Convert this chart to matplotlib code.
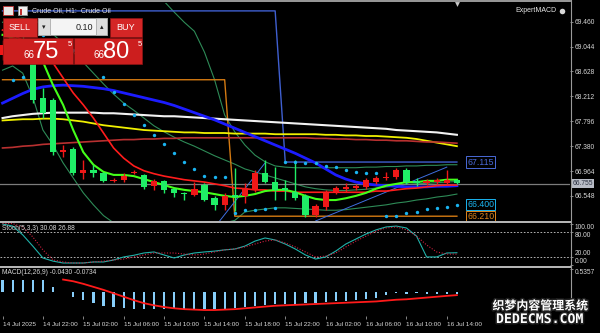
import numpy as np
import matplotlib
matplotlib.use("Agg")
import matplotlib.pyplot as plt
import matplotlib.patheffects as pe
import matplotlib.transforms as mtransforms
from matplotlib.patches import Rectangle

plt.rcParams['font.family'] = ['Liberation Sans', 'DejaVu Sans']

# ---- H1 candles, 14 Jul 18:00 .. 16 Jul 15:00 (green = falling bar, red = rising bar)
opens = [68.90, 69.07, 69.15, 68.90, 68.19, 68.15, 67.28, 67.33, 66.93, 66.98,
         66.93, 66.80, 66.82, 66.93, 66.90, 66.72, 66.80, 66.67, 66.60, 66.57,
         66.73, 66.51, 66.40, 66.57, 66.55, 66.65, 66.93, 66.78, 66.68, 66.61,
         66.55, 66.23, 66.36, 66.61, 66.67, 66.68, 66.70, 66.78, 66.85, 66.87,
         66.98, 66.80, 66.77, 66.78, 66.77, 66.82]
highs = [69.15, 69.27, 69.23, 68.99, 68.35, 68.19, 67.40, 67.37, 67.15, 67.07,
         66.95, 66.85, 66.93, 66.98, 66.92, 66.83, 66.82, 66.68, 66.61, 66.78,
         66.77, 66.55, 66.60, 67.02, 66.77, 66.98, 67.15, 67.03, 66.82, 67.15,
         66.58, 66.42, 66.65, 66.72, 66.77, 66.75, 66.85, 66.88, 66.95, 67.02,
         67.02, 66.85, 66.83, 66.85, 66.98, 66.83]
lows = [68.82, 68.99, 68.82, 68.10, 67.85, 67.23, 67.20, 66.90, 66.83, 66.87,
        66.78, 66.78, 66.78, 66.92, 66.67, 66.65, 66.60, 66.53, 66.48, 66.55,
        66.46, 66.31, 66.31, 66.30, 66.43, 66.61, 66.77, 66.48, 66.48, 66.48,
        66.20, 66.20, 66.31, 66.58, 66.61, 66.65, 66.67, 66.75, 66.82, 66.83,
        66.75, 66.72, 66.73, 66.75, 66.75, 66.75]
closes = [69.07, 69.19, 68.90, 68.15, 67.93, 67.28, 67.32, 66.93, 66.98, 66.93,
          66.80, 66.82, 66.88, 66.95, 66.70, 66.80, 66.65, 66.60, 66.58, 66.67,
          66.48, 66.40, 66.55, 66.53, 66.68, 66.93, 66.78, 66.65, 66.65, 66.51,
          66.23, 66.38, 66.60, 66.68, 66.70, 66.72, 66.82, 66.85, 66.87, 66.98,
          66.78, 66.77, 66.80, 66.82, 66.82, 66.76]

# ---- moving averages
ma_white = [67.85, 67.88, 67.90, 67.92, 67.93, 67.94, 67.94, 67.94, 67.94, 67.94,
            67.93, 67.93, 67.92, 67.91, 67.90, 67.89, 67.88, 67.88, 67.87, 67.86,
            67.85, 67.84, 67.83, 67.82, 67.81, 67.80, 67.79, 67.78, 67.77, 67.76,
            67.75, 67.74, 67.73, 67.72, 67.71, 67.70, 67.69, 67.68, 67.67, 67.65,
            67.64, 67.63, 67.62, 67.61, 67.59, 67.57]
ma_yellow = [67.81, 67.82, 67.83, 67.83, 67.84, 67.84, 67.83, 67.81, 67.79, 67.76,
             67.73, 67.71, 67.69, 67.67, 67.65, 67.64, 67.63, 67.62, 67.61, 67.61,
             67.60, 67.60, 67.60, 67.59, 67.59, 67.59, 67.59, 67.58, 67.58, 67.58,
             67.58, 67.58, 67.57, 67.57, 67.56, 67.56, 67.55, 67.55, 67.54, 67.53,
             67.52, 67.50, 67.47, 67.44, 67.41, 67.38]
ma_darkred = [67.35, 67.36, 67.38, 67.39, 67.41, 67.42, 67.43, 67.44, 67.45, 67.46,
              67.47, 67.48, 67.49, 67.49, 67.50, 67.50, 67.51, 67.51, 67.52, 67.52,
              67.52, 67.52, 67.52, 67.52, 67.52, 67.52, 67.52, 67.52, 67.52, 67.52,
              67.52, 67.51, 67.51, 67.50, 67.50, 67.49, 67.49, 67.48, 67.48, 67.47,
              67.47, 67.46, 67.45, 67.45, 67.44, 67.43]
ma_blue = [68.10, 68.18, 68.26, 68.33, 68.37, 68.39, 68.40, 68.39, 68.38, 68.36,
           68.34, 68.31, 68.27, 68.23, 68.19, 68.15, 68.11, 68.06, 68.00, 67.94,
           67.88, 67.82, 67.75, 67.68, 67.61, 67.54, 67.47, 67.40, 67.33, 67.26,
           67.18, 67.10, 67.00, 66.90, 66.83, 66.78, 66.75, 66.73, 66.72, 66.71,
           66.70, 66.70, 66.70, 66.71, 66.71, 66.72]
ma_red = [69.32, 69.24, 69.15, 69.04, 68.90, 68.77, 68.52, 68.27, 68.07, 67.85,
          67.60, 67.35, 67.18, 67.05, 66.97, 66.92, 66.88, 66.85, 66.82, 66.80,
          66.78, 66.75, 66.72, 66.68, 66.67, 66.65, 66.65, 66.63, 66.63, 66.61,
          66.61, 66.61, 66.61, 66.61, 66.61, 66.61, 66.61, 66.63, 66.63, 66.65,
          66.67, 66.68, 66.70, 66.72, 66.73, 66.73]
ma_lime = [69.24, 69.19, 69.12, 68.99, 68.79, 68.40, 68.07, 67.65, 67.28, 67.07,
           66.95, 66.90, 66.90, 66.88, 66.83, 66.78, 66.73, 66.68, 66.65, 66.63,
           66.61, 66.58, 66.55, 66.53, 66.55, 66.58, 66.63, 66.65, 66.65, 66.61,
           66.55, 66.50, 66.48, 66.48, 66.51, 66.55, 66.60, 66.67, 66.72, 66.75,
           66.78, 66.78, 66.80, 66.80, 66.82, 66.82]

# ---- bands
bb_upper = [70.30, 70.35, 70.40, 70.42, 70.43, 70.43, 70.42, 70.40, 70.37, 70.33,
            70.28, 70.22, 70.15, 70.07, 69.98, 69.90, 69.80, 69.62, 69.45, 69.30,
            68.95, 68.49, 67.90, 67.62, 67.40, 67.23, 67.12, 67.05, 67.03, 67.02,
            67.02, 67.02, 67.02, 67.02, 67.02, 67.02, 67.03, 67.03, 67.04, 67.04,
            67.05, 67.05, 67.06, 67.06, 67.07, 67.07]
bb_mid = [69.45, 69.50, 69.52, 69.50, 69.40, 69.25, 69.10, 68.95, 68.78, 68.60,
          68.42, 68.25, 68.10, 67.98, 67.85, 67.72, 67.62, 67.53, 67.45, 67.38,
          67.30, 67.22, 67.15, 67.08, 67.00, 66.95, 66.90, 66.85, 66.80, 66.75,
          66.70, 66.67, 66.65, 66.64, 66.64, 66.65, 66.66, 66.68, 66.70, 66.72,
          66.74, 66.75, 66.76, 66.77, 66.78, 66.79]
bb_lower = [68.65, 68.72, 68.60, 68.20, 67.65, 67.40, 67.10, 66.85, 66.60, 66.40,
            66.22, 66.10, 65.95, 65.92, 65.90, 65.90, 65.92, 65.95, 65.98, 66.00,
            66.03, 66.07, 66.10, 66.14, 66.28, 66.31, 66.33, 66.35, 66.35, 66.34,
            66.33, 66.32, 66.31, 66.31, 66.32, 66.34, 66.36, 66.38, 66.40, 66.43,
            66.45, 66.48, 66.50, 66.53, 66.55, 66.58]

# ---- parabolic SAR
sar = [np.nan, 68.49, 68.54, 69.32, 69.24, 69.15, 69.07, 68.99, 68.90, 68.82,
       68.54, 68.29, 68.09, 67.90, 67.73, 67.57, 67.42, 67.27, 67.12, 67.00,
       66.88, 66.87, 66.87, 66.26, 66.31, 66.31, 66.33, 66.35, 67.12, 67.12,
       67.10, 67.10, 67.05, 67.03, 66.98, 66.95, 66.93, 66.93, 66.21, 66.21,
       66.26, 66.28, 66.33, 66.35, 66.36, 66.40]

# ---- channel levels (blue high / orange low)
level_high = [69.64] * 28 + [67.115] * 18
level_low = [68.49] * 23 + [66.21] * 23
bid = 66.755

# ---- hand-drawn trend lines: (bar, price) anchor pairs
trend_a_bars, trend_a_prices = [21.5, 26], [66.13, 67.10]
trend_b_bars, trend_b_prices = [31, 44], [66.13, 67.03]

# ---- Stochastic (5,3,3)
stoch_k = [99, 94, 73, 46, 17.5, 10, 5.5, 5.5, 5.5, 8,
           8, 12.7, 20, 24, 29.5, 32, 24.7, 17.5, 24.7, 29.5,
           32, 34, 37, 39, 46, 58, 65.5, 60.7, 51, 39,
           24.7, 15, 20, 34, 51, 63, 75, 85, 92, 94,
           89.5, 70, 20, 20, 29.5, 30.08]
stoch_d = [100, 100, 92, 68, 37, 13, 8, 5.5, 5.5, 8,
           10, 12.7, 15, 20, 24.7, 29.5, 29.5, 29.5, 27, 24.7,
           27, 32, 37, 39, 44, 51, 58, 61, 53.5, 44,
           32, 20, 22, 29.5, 44, 58, 70, 82, 89.5, 92,
           85, 70, 48.7, 32, 27, 26.88]

# ---- MACD (12,26,9)
macd_hist = [0.29, 0.29, 0.29, 0.29, 0.27, 0.11, 0.01, -0.11, -0.19, -0.26,
             -0.33, -0.36, -0.38, -0.39, -0.40, -0.40, -0.40, -0.40, -0.40, -0.40,
             -0.40, -0.40, -0.39, -0.38, -0.36, -0.33, -0.30, -0.29, -0.28, -0.27,
             -0.26, -0.25, -0.24, -0.22, -0.20, -0.18, -0.16, -0.13, -0.08, -0.03,
             -0.04, -0.03, -0.04, -0.04, -0.04, -0.043]
macd_signal = [np.nan, np.nan, np.nan, np.nan, np.nan, np.nan, 0.29, 0.25, 0.19, 0.12,
               0.05, -0.03, -0.11, -0.19, -0.26, -0.31, -0.35, -0.38, -0.40, -0.41,
               -0.42, -0.42, -0.41, -0.40, -0.38, -0.36, -0.34, -0.32, -0.31, -0.30,
               -0.29, -0.28, -0.27, -0.26, -0.25, -0.24, -0.23, -0.22, -0.20, -0.18,
               -0.17, -0.15, -0.13, -0.11, -0.09, -0.073]

time_ticks = [0, 4, 8, 12, 16, 20, 24, 28, 32, 36, 40, 44]
time_labels = ["14 Jul 2025", "14 Jul 22:00", "15 Jul 02:00", "15 Jul 06:00",
               "15 Jul 10:00", "15 Jul 14:00", "15 Jul 18:00", "15 Jul 22:00",
               "16 Jul 02:00", "16 Jul 06:00", "16 Jul 10:00", "16 Jul 14:00"]
price_ticks = [69.460, 69.044, 68.628, 68.212, 67.796, 67.380, 66.964, 66.548]

# ------------------------------------------------------------------
W, H = 600.0, 333.0
fig = plt.figure(figsize=(6, 3.33), dpi=100, facecolor='black')


def panel(top, bottom):
    ax = fig.add_axes([0, 1 - bottom / H, 570 / W, (bottom - top) / H])
    ax.set_facecolor('black')
    for s in ax.spines.values():
        s.set_visible(False)
    ax.set_xlim(-0.25, 56.2)
    ax.yaxis.tick_right()
    ax.tick_params(axis='y', colors='#9a9a9a', labelcolor='#d8d8d8', labelsize=4.8,
                   length=2.5, width=0.6, pad=1)
    ax.tick_params(axis='x', bottom=False, labelbottom=False)
    return ax


ax = panel(3, 221)
ax_st = panel(222.5, 265.5)
ax_md = panel(268, 316)

x = np.arange(len(opens))
o, h, l, c = map(np.array, (opens, highs, lows, closes))

# main price panel
ax.set_ylim(66.130, 69.772)
ax.set_yticks(price_ticks)
ax.set_yticklabels([f"{p:.3f}" for p in price_ticks])

ax.plot(x, bb_upper, color='#2e8b57', lw=0.8, zorder=2)
ax.plot(x, bb_mid, color='#2e8b57', lw=0.8, zorder=2)
ax.plot(x, bb_lower, color='#2e8b57', lw=0.8, zorder=2)
ax.plot(x, level_high, color='#3f5fd0', lw=1.0, zorder=2)
ax.plot(x, level_low, color='#d47a12', lw=1.0, zorder=2)
ax.plot(trend_a_bars, trend_a_prices, color='#3f6fe0', lw=0.7, zorder=2)
ax.plot(trend_b_bars, trend_b_prices, color='#3f6fe0', lw=0.7, zorder=2)
ax.axhline(bid, color='#7c7c7c', lw=0.9, zorder=2)
ax.plot(x, ma_white, color='#f2f2f2', lw=1.5, zorder=3)
ax.plot(x, ma_yellow, color='#f0f000', lw=1.3, zorder=3)
ax.plot(x, ma_darkred, color='#b83030', lw=1.2, zorder=3)
ax.plot(x, ma_blue, color='#1c1cff', lw=2.0, zorder=3)
ax.plot(x, ma_red, color='#ff1c1c', lw=1.2, zorder=3)
ax.plot(x, ma_lime, color='#44ff1a', lw=1.5, zorder=3)

rising = c > o
col = np.where(rising, '#f01818', '#1fee66')
ax.vlines(x, l, h, colors=col, lw=1.0, zorder=5)
ax.bar(x, np.maximum(np.abs(c - o), 0.015), bottom=np.minimum(o, c), width=0.62,
       color=col, zorder=6)
ax.scatter(x, sar, s=6, color='#1ab4f0', zorder=7, linewidths=0)

for val, txt, colr in [(67.115, '67.115', '#4a6ad8'), (66.400, '66.400', '#1ab4f0'),
                       (66.210, '66.210', '#e0861a')]:
    ax.text(46.0, val, txt, color=colr, fontsize=6.3, va='center', ha='left', zorder=8,
            bbox=dict(boxstyle='square,pad=0.12', fc='black', ec=colr, lw=0.7))

tr = mtransforms.blended_transform_factory(ax.transAxes, ax.transData)
ax.text(1.004, bid, '66.755', transform=tr, fontsize=4.8, color='#2a3040', va='center',
        ha='left', zorder=9, clip_on=False,
        bbox=dict(boxstyle='square,pad=0.2', fc='#b8bcc6', ec='none'))

# stochastic panel
ax_st.set_ylim(-0.5, 102.6)
ax_st.set_yticks([100, 80, 20, 0])
ax_st.set_yticklabels(['100.00', '80.00', '20.00', '0.00'])
for lab, va in zip(ax_st.get_yticklabels(), ['top', 'top', 'bottom', 'bottom']):
    lab.set_va(va)
for lev in (80, 20):
    ax_st.axhline(lev, color='#cfcfcf', lw=0.6, ls=(0, (2, 2)))
ax_st.plot(x, stoch_k, color='#20b2aa', lw=0.8)
ax_st.plot(x, stoch_d, color='#d02040', lw=0.8, ls=(0, (1, 1.5)))
ax_st.text(0.003, 0.85, 'Stoch(5,3,3) 30.08 26.88', transform=ax_st.transAxes,
           fontsize=4.8, color='#d8d8d8', va='center', ha='left')

# MACD panel
ax_md.set_ylim(-0.559, 0.559)
ax_md.set_yticks([0.5357])
ax_md.set_yticklabels(['0.5357'])
ax_md.get_yticklabels()[0].set_va('top')
ax_md.bar(x, macd_hist, width=0.22, color='#87cefa')
ax_md.plot(x, macd_signal, color='#ff1a1a', lw=1.3)
ax_md.text(0.003, 0.896, 'MACD(12,26,9) -0.0430 -0.0734', transform=ax_md.transAxes,
           fontsize=4.8, color='#d8d8d8', va='center', ha='left')
ax_md.tick_params(axis='x', bottom=True, labelbottom=True, colors='#9a9a9a',
                  labelcolor='#d8d8d8', labelsize=4.6, length=2.5, width=0.6, pad=1.5)
ax_md.set_xticks(time_ticks)
ax_md.set_xticklabels(time_labels, ha='left')

# ---- frame, separators and terminal widgets (pixel overlay)
ov = fig.add_axes([0, 0, 1, 1], zorder=10)
ov.set_xlim(0, W)
ov.set_ylim(H, 0)
ov.axis('off')
ov.plot([0, 570], [1.2, 1.2], color='#9a9a9a', lw=1.4)
ov.plot([570.5, 570.5], [0, 319], color='#9a9a9a', lw=0.8)
ov.add_patch(Rectangle((0, 220.5), 570.5, 2, color='#b4b4b4', lw=0))
ov.add_patch(Rectangle((0, 265.5), 570.5, 2, color='#b4b4b4', lw=0))
ov.plot([457], [3.5], marker='v', ms=3.5, color='#c8c8c8', mew=0)

# chart header
ov.add_patch(Rectangle((3, 6), 10, 9, fc='#e8e8e8', ec='#c03030', lw=0.6))
ov.add_patch(Rectangle((18, 6), 9, 9, fc='#f0f0f0', ec='#909090', lw=0.6))
ov.add_patch(Rectangle((20, 9), 2, 6, fc='#c03030', lw=0))
ov.text(32, 11, 'Crude Oil, H1:  Crude Oil', fontsize=5, color='#e8e8e8', va='center')
ov.text(556, 11, 'ExpertMACD', fontsize=5, color='#e8e8e8', va='center', ha='right')
ov.plot([562], [11], marker='o', ms=4, color='#d8d8d8', mew=0)

# one-click trading panel
red = '#d42626'
ov.add_patch(Rectangle((3, 18), 34, 19, fc=red, ec='#8e1414', lw=0.5))
ov.add_patch(Rectangle((110, 18), 32, 19, fc=red, ec='#8e1414', lw=0.5))
ov.add_patch(Rectangle((38, 18), 69, 17, fc='#f4f4f4', ec='#a0a0a0', lw=0.5))
ov.add_patch(Rectangle((38, 18), 12, 17, fc='#dedede', ec='#a0a0a0', lw=0.5))
ov.add_patch(Rectangle((96, 18), 11, 17, fc='#dedede', ec='#a0a0a0', lw=0.5))
ov.text(44, 27, '▾', fontsize=5, color='#202020', ha='center', va='center',
        family=['DejaVu Sans'])
ov.text(101.5, 27, '▴', fontsize=5, color='#202020', ha='center', va='center',
        family=['DejaVu Sans'])
ov.text(93, 27, '0.10', fontsize=6.5, color='#202020', ha='right', va='center')
ov.text(20, 28, 'SELL', fontsize=6.5, color='white', ha='center', va='center')
ov.text(126, 28, 'BUY', fontsize=6.5, color='white', ha='center', va='center')
ov.add_patch(Rectangle((3, 37.5), 70, 26.5, fc='#cc1e1e', ec='#8e1414', lw=0.5))
ov.add_patch(Rectangle((74, 37.5), 68, 26.5, fc='#cc1e1e', ec='#8e1414', lw=0.5))
for x0, big in [(23, '75'), (93, '80')]:
    ov.text(x0, 55, '66', fontsize=7, color='white', ha='left', va='center')
    ov.text(x0 + 10, 51.5, big, fontsize=17, color='white', ha='left', va='center')
    ov.text(x0 + 45, 45, '5', fontsize=5.5, color='white', ha='left', va='center')

# site watermark
stroke = [pe.withStroke(linewidth=2.2, foreground='#202020')]
ov.text(540, 306, '织梦内容管理系统', fontsize=8.6, color='white', ha='center',
        va='center', family=['Noto Sans CJK SC'], weight='bold', path_effects=stroke)
ov.text(540, 319.5, 'DEDECMS.COM', fontsize=9.5, color='white', ha='center',
        va='center', family=['DejaVu Sans Mono'], weight='bold', path_effects=stroke)

fig.savefig('out.png', dpi=100, facecolor='black')
